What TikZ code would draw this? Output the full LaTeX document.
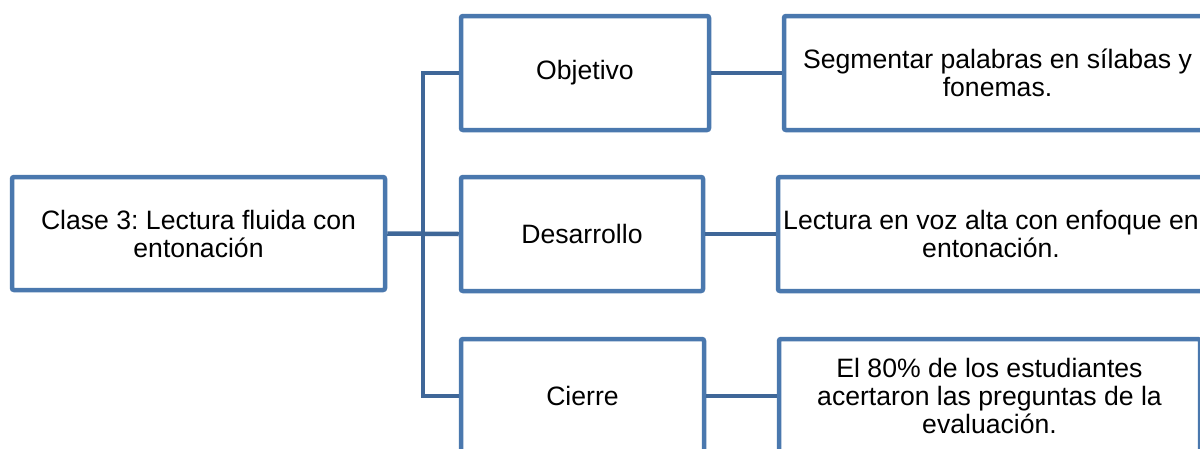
\documentclass[tikz,border=0pt]{standalone}
\usepackage{fontspec}
\setmainfont{Liberation Sans}
\usetikzlibrary{calc}
\definecolor{boxblue}{HTML}{4A78AE}
\definecolor{connblue}{HTML}{3F6798}
\frenchspacing
\begin{document}
\begin{tikzpicture}[x=1pt,y=-1pt,
  box/.style={draw=boxblue, line width=4.5pt, rounded corners=2pt, fill=white,
    inner sep=0pt, align=center, font=\fontsize{26.6}{28}\selectfont},
  conn/.style={draw=connblue, line width=4.5pt}]
\useasboundingbox (0,0) rectangle (1200,448);
\clip (0,0) rectangle (1200,448);
\fill[white] (0,0) rectangle (1200,448);
% root
\node[box, minimum width=373pt, minimum height=113pt] (root) at (198.5,233.5)
  {Clase 3: Lectura fluida con\\entonación};
% middle column
\node[box, minimum width=248pt, minimum height=114pt] (obj) at (585,73) {Objetivo};
\node[box, minimum width=242pt, minimum height=114pt] (des) at (582,234) {Desarrollo};
\node[box, minimum width=243pt, minimum height=114pt] (cie) at (582.5,396) {Cierre};
% right column
\node[box, minimum width=427pt, minimum height=114pt] (seg) at (997.5,73)
  {Segmentar palabras en sílabas y\\fonemas.};
\node[box, minimum width=426pt, minimum height=114pt] (lec) at (991,234)
  {Lectura en voz alta con enfoque en\\entonación.};
\node[box, minimum width=421pt, minimum height=114pt] (eva) at (989.5,396)
  {El 80\% de los estudiantes\\acertaron las preguntas de la\\evaluación.};
% connectors
\draw[conn] (root.east) -- (des.west);
\draw[conn] (obj.west) -| ($(root.east)!.5!(des.west)$) |- (cie.west);
\draw[conn] (obj.east) -- (seg.west);
\draw[conn] (des.east) -- (lec.west);
\draw[conn] (cie.east) -- (eva.west);
\end{tikzpicture}
\end{document}
